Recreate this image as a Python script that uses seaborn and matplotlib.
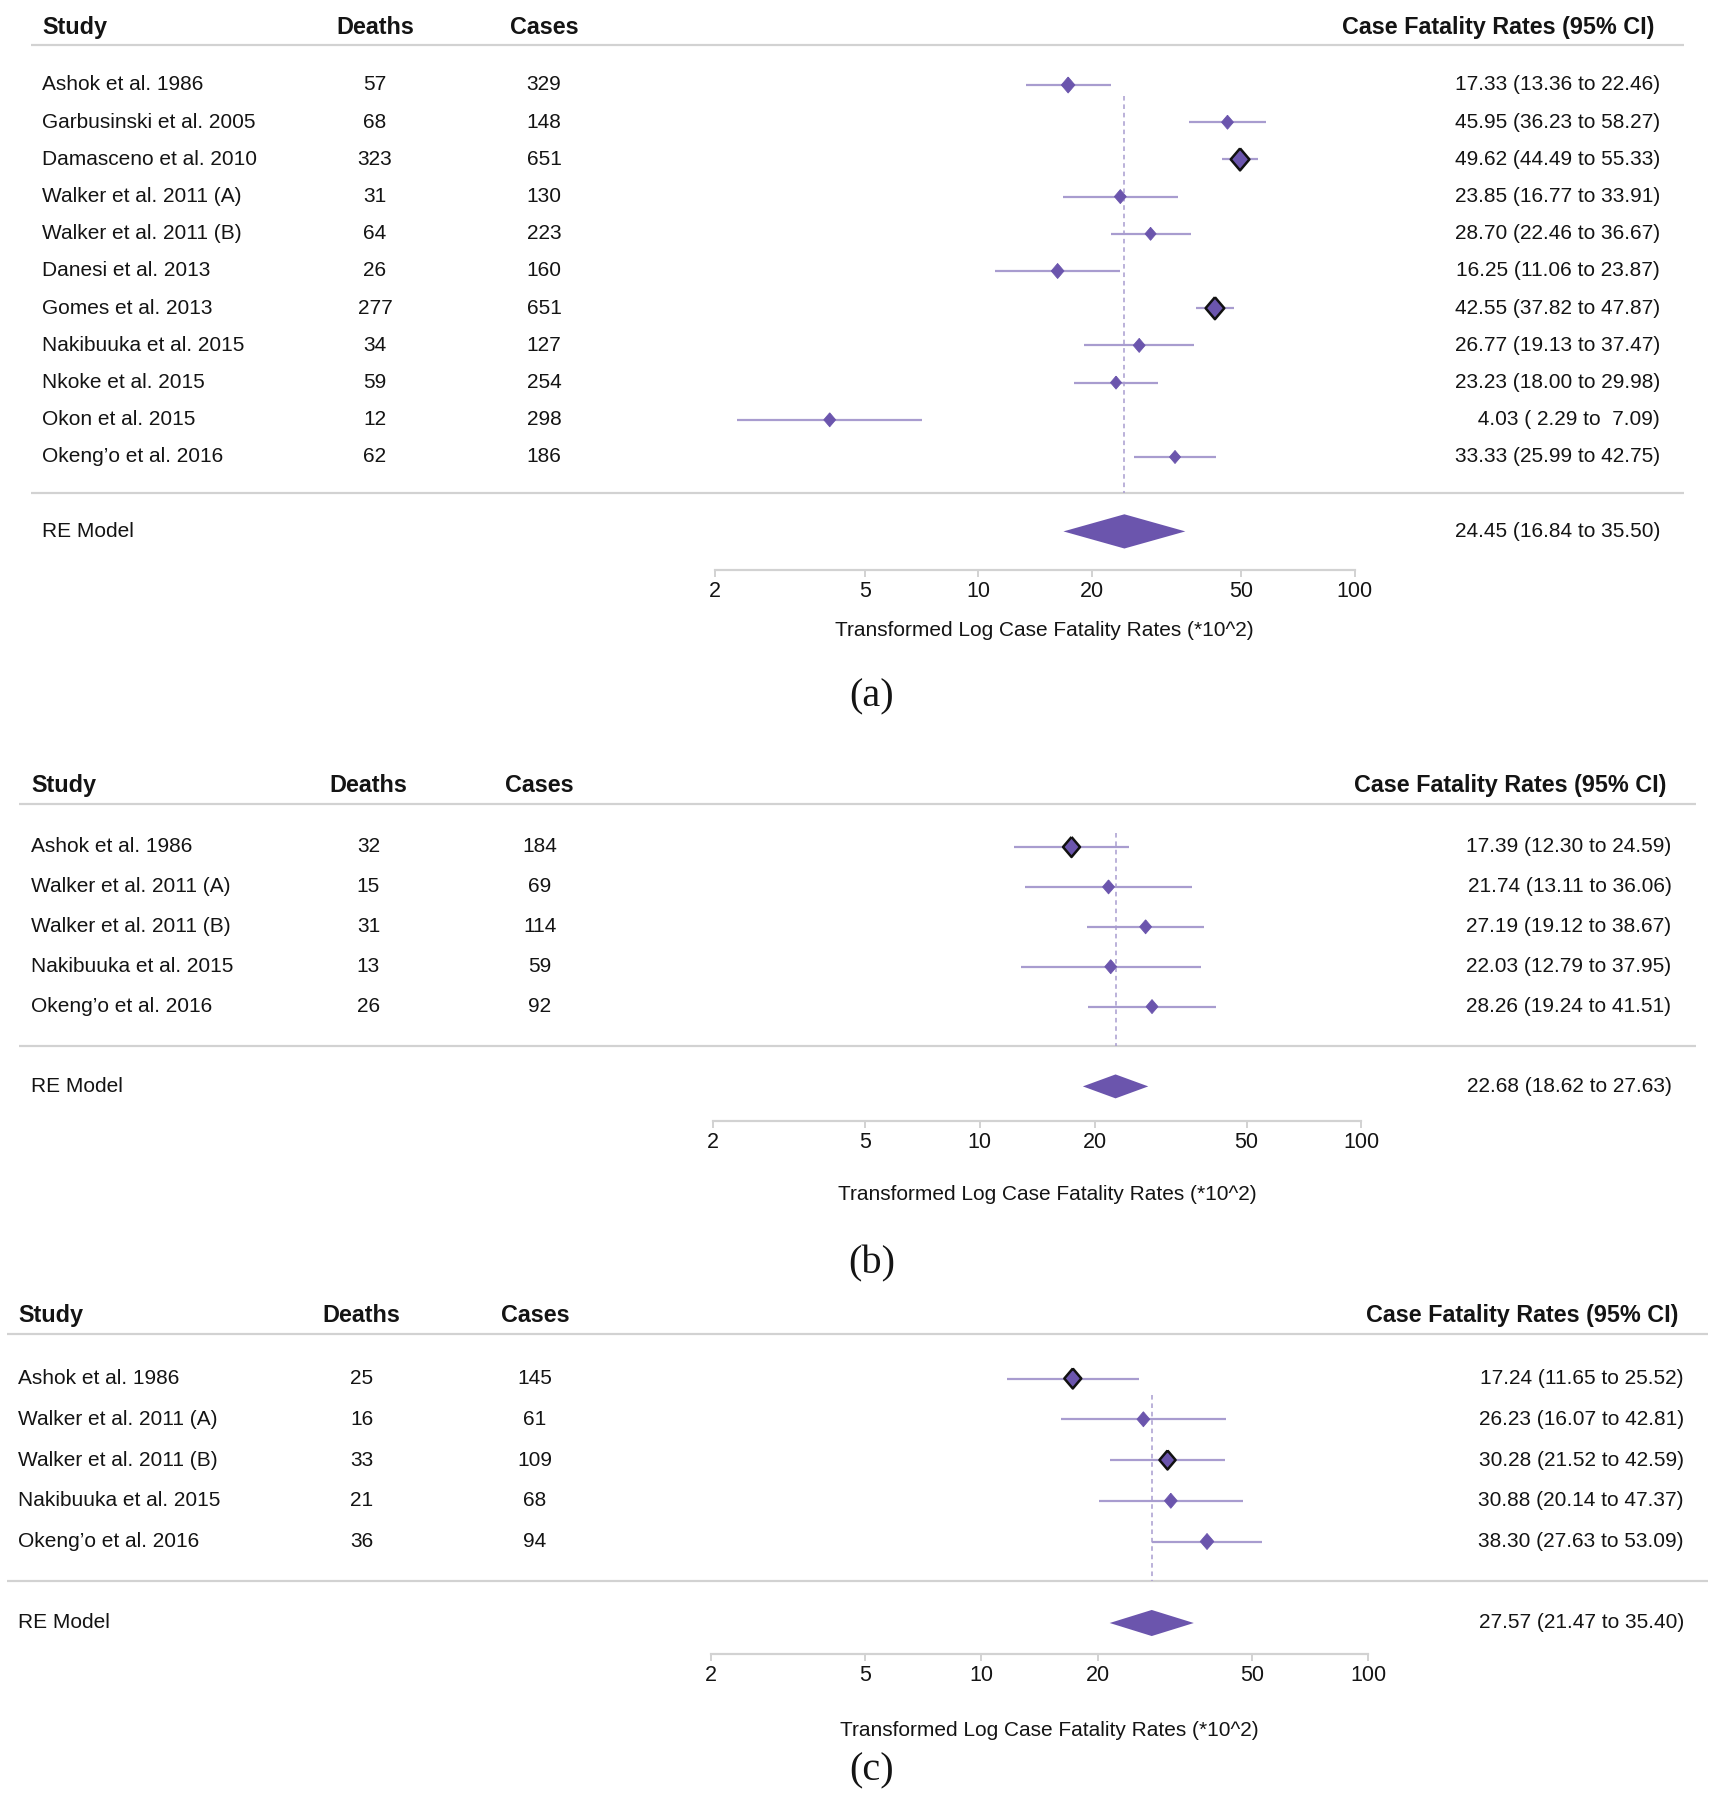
import numpy as np
import pandas as pd
import matplotlib.pyplot as plt
import seaborn as sns

# ---- data -------------------------------------------------------------
studies_a = ["Ashok et al. 1986", "Garbusinski et al. 2005", "Damasceno et al. 2010",
             "Walker et al. 2011 (A)", "Walker et al. 2011 (B)", "Danesi et al. 2013",
             "Gomes et al. 2013", "Nakibuuka et al. 2015", "Nkoke et al. 2015",
             "Okon et al. 2015", "Okeng\u2019o et al. 2016"]
deaths_a = [57, 68, 323, 31, 64, 26, 277, 34, 59, 12, 62]
cases_a = [329, 148, 651, 130, 223, 160, 651, 127, 254, 298, 186]
cfr_a = [17.33, 45.95, 49.62, 23.85, 28.70, 16.25, 42.55, 26.77, 23.23, 4.03, 33.33]
lo_a = [13.36, 36.23, 44.49, 16.77, 22.46, 11.06, 37.82, 19.13, 18.00, 2.29, 25.99]
hi_a = [22.46, 58.27, 55.33, 33.91, 36.67, 23.87, 47.87, 37.47, 29.98, 7.09, 42.75]
re_a = [24.45, 16.84, 35.50]

studies_b = ["Ashok et al. 1986", "Walker et al. 2011 (A)", "Walker et al. 2011 (B)",
             "Nakibuuka et al. 2015", "Okeng\u2019o et al. 2016"]
deaths_b = [32, 15, 31, 13, 26]
cases_b = [184, 69, 114, 59, 92]
cfr_b = [17.39, 21.74, 27.19, 22.03, 28.26]
lo_b = [12.30, 13.11, 19.12, 12.79, 19.24]
hi_b = [24.59, 36.06, 38.67, 37.95, 41.51]
re_b = [22.68, 18.62, 27.63]

studies_c = studies_b
deaths_c = [25, 16, 33, 21, 36]
cases_c = [145, 61, 109, 68, 94]
cfr_c = [17.24, 26.23, 30.28, 30.88, 38.30]
lo_c = [11.65, 16.07, 21.52, 20.14, 27.63]
hi_c = [25.52, 42.81, 42.59, 47.37, 53.09]
re_c = [27.57, 21.47, 35.40]

ticks = [2, 5, 10, 20, 50, 100]

# ---- style -------------------------------------------------------------
# marker heights (px) and whether the marker gets a black outline
size_a = [16, 14, 22, 14, 13, 15, 22, 14, 13, 14, 13]
edge_a = [0, 0, 1, 0, 0, 0, 1, 0, 0, 0, 0]
size_b = [20, 14, 14, 14, 14]
edge_b = [1, 0, 0, 0, 0]
size_c = [20, 15, 19, 15, 16]
edge_c = [1, 0, 1, 0, 0]

PURPLE = "#6b55ad"
CI_COL = "#a89ccf"
RULE = "#d2d2d2"
TXT = "#141414"
FS = 15
HFS = 16.8

W, H = 1715, 1800

sns.set_theme(style="white")
plt.rcParams["font.family"] = ["Liberation Sans", "DejaVu Sans"]

DIAMOND = [(0, 1), (0.85, 0), (0, -1), (-0.85, 0), (0, 1)]

# layout of each panel in pixels
lay_a = dict(row0=85, dy=37.2, axis=570, label=630, tag=697, study=42.5,
             deaths=375, cases=544, cfr=1660, head_r=1654, rule=(31, 1684),
             x2=715.2, x100=1354.6, dash_top=0.3, re_h=0.46)
lay_b = dict(row0=847, dy=39.9, axis=1121, label=1194, tag=1264, study=31,
             deaths=368.5, cases=539.6, cfr=1671.5, head_r=1666, rule=(19.5, 1696),
             x2=713, x100=1361.5, dash_top=-0.35, re_h=0.3)
lay_c = dict(row0=1378.5, dy=40.75, axis=1654, label=1730, tag=1771, study=18.4,
             deaths=361.6, cases=535, cfr=1684, head_r=1678, rule=(7, 1708),
             x2=710.6, x100=1368.4, dash_top=0.4, re_h=0.32)


def draw_panel(fig, lay, studies, deaths, cases, cfr, lo, hi, re, sizes, edged, tag):
    k = len(studies)
    row0, dy = lay["row0"], lay["dy"]

    def to_row(px):
        return (px - row0) / dy

    top_px = row0 - 2.3 * dy
    bot_px = lay["tag"] + 25

    # table part
    tab = fig.add_axes([0, 1 - bot_px / H, 1, (bot_px - top_px) / H])
    tab.set_xlim(0, W)
    tab.set_ylim(to_row(bot_px), to_row(top_px))
    tab.axis("off")

    hy = to_row(row0 - 1.55 * dy)
    head = dict(va="center", fontsize=HFS, fontweight="bold", color=TXT)
    tab.text(lay["study"], hy, "Study", ha="left", **head)
    tab.text(lay["deaths"], hy, "Deaths", ha="center", **head)
    tab.text(lay["cases"], hy, "Cases", ha="center", **head)
    tab.text(lay["head_r"], hy, "Case Fatality Rates (95% CI)", ha="right", **head)
    tab.hlines([-1.08, k - 0.02], *lay["rule"], color=RULE, lw=1.6)

    for i in range(k):
        tab.text(lay["study"], i, studies[i], ha="left", va="center", fontsize=FS, color=TXT)
        tab.text(lay["deaths"], i, str(deaths[i]), ha="center", va="center", fontsize=FS, color=TXT)
        tab.text(lay["cases"], i, str(cases[i]), ha="center", va="center", fontsize=FS, color=TXT)
        tab.text(lay["cfr"], i, f"{cfr[i]:5.2f} ({lo[i]:5.2f} to {hi[i]:5.2f})",
                 ha="right", va="center", fontsize=FS, color=TXT)
    tab.text(lay["study"], k + 1, "RE Model", ha="left", va="center", fontsize=FS, color=TXT)
    tab.text(lay["cfr"], k + 1, f"{re[0]:5.2f} ({re[1]:5.2f} to {re[2]:5.2f})",
             ha="right", va="center", fontsize=FS, color=TXT)
    tab.text(872, to_row(lay["tag"]), tag, ha="center", va="center", fontsize=29,
             family="Liberation Serif", color=TXT)

    # forest part
    x2, x100 = lay["x2"], lay["x100"]
    fx = fig.add_axes([x2 / W, 1 - lay["axis"] / H, (x100 - x2) / W, (lay["axis"] - top_px) / H])
    fx.patch.set_visible(False)
    fx.set_xscale("log")
    fx.set_xlim(2, 100)
    fx.set_ylim(to_row(lay["axis"]), to_row(top_px))

    rows = np.arange(k)
    fx.hlines(rows, lo, hi, color=CI_COL, lw=1.6, zorder=1)
    fx.vlines(re[0], lay["dash_top"], k - 0.02, color=CI_COL, lw=1.1,
              linestyles=(0, (3, 2.5)), zorder=1)

    df = pd.DataFrame({"cfr": cfr, "row": rows})
    s = (np.array(sizes) * 0.72) ** 2
    edges = ["#111111" if e else PURPLE for e in edged]
    lws = [1.8 if e else 0.6 for e in edged]
    sns.scatterplot(data=df, x="cfr", y="row", ax=fx, marker=DIAMOND, s=s, color=PURPLE,
                    edgecolor=edges, linewidth=lws, zorder=3, legend=False, clip_on=False)

    r, h = k + 1, lay["re_h"]
    fx.fill([re[1], re[0], re[2], re[0]], [r, r - h, r, r + h], color=PURPLE, lw=0, zorder=3)

    sns.despine(ax=fx, left=True, top=True, right=True)
    fx.spines["bottom"].set_color(RULE)
    fx.spines["bottom"].set_linewidth(1.6)
    fx.set_xticks(ticks)
    fx.set_xticklabels([str(t) for t in ticks])
    fx.minorticks_off()
    fx.set_yticks([])
    fx.tick_params(axis="x", bottom=True, length=5, width=1.4, color=RULE,
                   labelsize=FS + 0.5, labelcolor=TXT, pad=3)
    fx.set_xlabel("Transformed Log Case Fatality Rates (*10^2)", fontsize=FS, color=TXT,
                  va="center")
    fx.set_ylabel("")
    fx.xaxis.set_label_coords(0.515, -(lay["label"] - lay["axis"]) / (lay["axis"] - top_px))


fig = plt.figure(figsize=(W / 100, H / 100), dpi=100)
draw_panel(fig, lay_a, studies_a, deaths_a, cases_a, cfr_a, lo_a, hi_a, re_a, size_a, edge_a, "(a)")
draw_panel(fig, lay_b, studies_b, deaths_b, cases_b, cfr_b, lo_b, hi_b, re_b, size_b, edge_b, "(b)")
draw_panel(fig, lay_c, studies_c, deaths_c, cases_c, cfr_c, lo_c, hi_c, re_c, size_c, edge_c, "(c)")
fig.savefig("out.png", dpi=100)
